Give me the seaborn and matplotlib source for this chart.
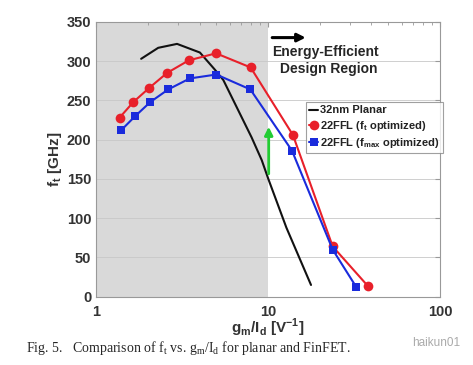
import numpy as np
import pandas as pd
import matplotlib
matplotlib.use("Agg")
import matplotlib.pyplot as plt
import seaborn as sns

# values (x log scale, GHz)
planar_x = [1.83, 2.30, 2.96, 4.02, 4.92, 5.5, 8.03, 9.2, 10.05, 12.8, 17.8]
planar_y = [303, 317, 322, 311, 289, 276, 203, 174, 150, 88, 15]
ft_opt_x = [1.37, 1.65, 2.04, 2.59, 3.46, 4.99, 7.93, 13.97, 23.8, 38.0]
ft_opt_y = [228, 248, 266, 285, 301, 310, 292, 206, 64, 14]
fmax_opt_x = [1.40, 1.69, 2.07, 2.63, 3.51, 5.01, 7.90, 13.8, 23.8, 32.5]
fmax_opt_y = [212, 230, 248, 264, 278, 283, 264, 186, 60, 13]
series_names = ["32nm Planar", "22FFL (f$_\\mathregular{t}$ optimized)",
                "22FFL (f$_\\mathregular{max}$ optimized)"]

sns.set_style("white")
plt.rcParams['font.family'] = ['Liberation Sans', 'DejaVu Sans']

fig = plt.figure(figsize=(4.73, 3.65), dpi=100)
ax = fig.add_axes([0.203, 0.187, 0.727, 0.753])

# shaded low-gm/Id region
ax.axvspan(1, 10, color='#d9d9d9', zorder=0, lw=0)

sns.lineplot(x=planar_x, y=planar_y, ax=ax, color='#111111', lw=1.5,
             label=series_names[0], zorder=3)
sns.lineplot(x=ft_opt_x, y=ft_opt_y, ax=ax, color='#e8202a', lw=1.5,
             marker='o', markersize=7, markeredgewidth=0,
             label=series_names[1], zorder=4)
sns.lineplot(x=fmax_opt_x, y=fmax_opt_y, ax=ax, color='#1a2bdc', lw=1.5,
             marker='s', markersize=5.5, markeredgewidth=0,
             label=series_names[2], zorder=5)

ax.set_xscale('log')
ax.set_xlim(1, 100)
ax.set_ylim(0, 350)
ax.set_yticks(np.arange(0, 351, 50))
ax.set_xticks([1, 10, 100])
ax.set_xticklabels(['1', '10', '100'])
ax.grid(axis='y', color='#c8c8c8', lw=0.6, zorder=1)
for s in ax.spines.values():
    s.set_color('#999999')
    s.set_linewidth(0.8)
ax.tick_params(axis='both', which='both', direction='in', top=True, right=True,
               color='#999999', labelcolor='#333333', labelsize=10.5)
ax.tick_params(axis='x', which='major', pad=6)
for t in ax.get_xticklabels() + ax.get_yticklabels():
    t.set_fontweight('bold')

ax.set_ylabel('f$_\\mathregular{t}$ [GHz]', fontsize=11, fontweight='bold', color='#333333', labelpad=2)
ax.set_xlabel('g$_\\mathregular{m}$/I$_\\mathregular{d}$ [V$^\\mathregular{-1}$]', fontsize=11,
              fontweight='bold', color='#333333', labelpad=-2)

# annotations
ax.annotate('', xy=(17.2, 330), xytext=(10.2, 330),
            arrowprops=dict(arrowstyle='-|>', color='black', lw=2.2, mutation_scale=12))
ax.text(21.5, 312, 'Energy-Efficient', ha='center', va='center', fontsize=10, fontweight='bold')
ax.text(22.5, 290, 'Design Region', ha='center', va='center', fontsize=10, fontweight='bold')
ax.annotate('', xy=(10.1, 220), xytext=(10.1, 153),
            arrowprops=dict(arrowstyle='-|>', color='#22cc33', lw=2.0, mutation_scale=12))

leg = ax.legend(loc='upper left', bbox_to_anchor=(0.61, 0.708), frameon=True, fancybox=False,
                fontsize=8.0, handlelength=0.8, handletextpad=0.2, borderpad=0.3,
                labelspacing=0.3, borderaxespad=0)
leg.get_frame().set_edgecolor('#888888')
leg.get_frame().set_linewidth(0.8)
for t in leg.get_texts():
    t.set_fontweight('bold')
    t.set_color('#222222')

fig.text(0.055, 0.046, 'Fig. 5.   Comparison of f$_\\mathregular{t}$ vs. g$_\\mathregular{m}$/I$_\\mathregular{d}$ for planar and FinFET.',
         fontsize=10, family='Liberation Serif', va='center')
fig.text(0.871, 0.060, 'haikun01', fontsize=8.5, color='#aaaaaa', va='center')

fig.savefig('out.png', dpi=100)
